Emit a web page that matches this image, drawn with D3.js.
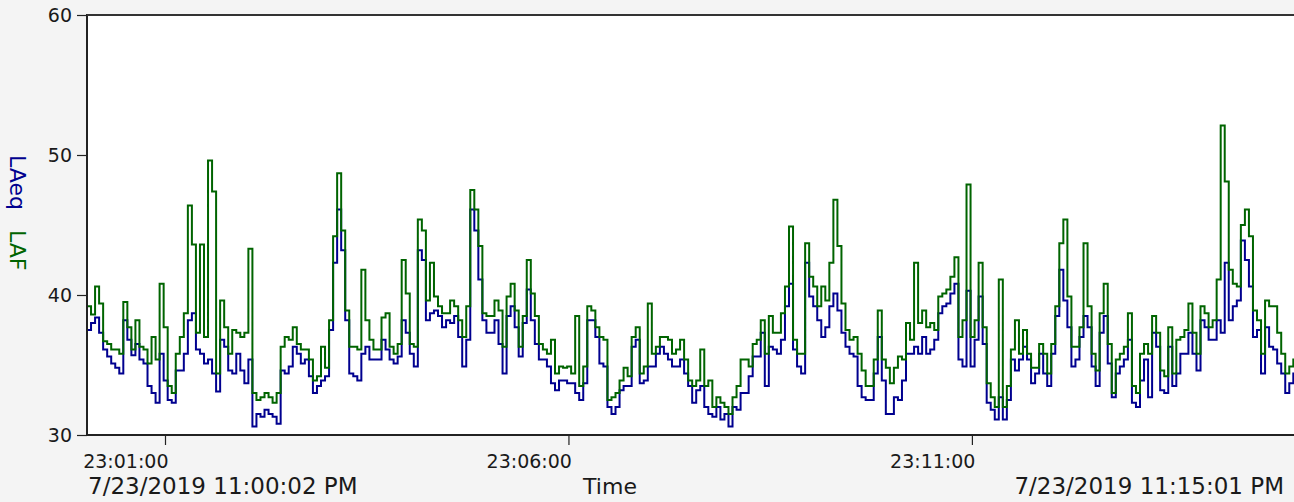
<!DOCTYPE html>
<html><head><meta charset="utf-8">
<script src="https://cdn.jsdelivr.net/npm/d3@7"></script>
<style>html,body{margin:0;padding:0;background:#f4f4f4;overflow:hidden}</style>
</head><body><svg id="c" width="1294" height="502"></svg>
<script>
const startTime = "2019-07-23 23:00:02";
const endTime = "2019-07-23 23:15:01";
const stepSeconds = 3;
const seriesNames = ["LAeq", "LAF"];
const yTicks = [30, 40, 50, 60];
const xTickLabels = ["23:01:00", "23:06:00", "23:11:00"];
const startLabel = "7/23/2019 11:00:02 PM";
const endLabel = "7/23/2019 11:15:01 PM";
const axisTitle = "Time";

const laf = [
39.2,38.6,40.6,39.4,36.7,36.5,36.1,36.1,35.8,39.5,37.7,36.1,38.2,36.3,36.1,35.1,37.0,35.4,40.8,37.7,
33.5,33.0,35.8,37.0,38.7,46.4,43.6,37.3,43.6,37.0,49.6,47.4,34.4,39.6,37.7,35.8,37.5,37.3,37.0,37.3,
43.3,33.0,32.5,32.7,33.0,32.7,32.3,33.0,36.3,37.0,
36.8,37.7,36.5,36.1,36.1,35.4,33.9,34.2,36.3,34.8,38.2,44.2,48.7,44.6,38.9,36.3,36.3,36.1,41.8,38.2,
36.8,36.1,36.1,38.4,38.7,36.3,35.8,36.5,42.5,40.1,36.5,36.3,45.4,44.6,39.6,42.3,39.9,39.2,38.7,38.7,
39.6,39.2,38.2,37.0,39.2,47.5,46.1,43.5,38.7,38.5,
38.5,39.6,38.9,36.3,39.9,40.8,38.9,36.3,38.5,42.5,40.1,38.5,36.5,36.1,35.8,36.8,34.4,34.9,34.8,34.9,
34.4,38.5,33.5,34.9,39.2,38.9,37.7,37.0,36.8,32.5,32.7,33.0,33.9,34.8,34.2,37.0,37.7,34.4,34.9,39.4,
35.8,36.3,37.0,37.0,36.8,35.8,36.1,36.8,35.4,
33.9,33.5,33.9,36.1,33.5,33.9,32.0,32.7,32.3,32.0,31.5,32.7,33.5,35.4,35.4,34.9,36.5,36.8,38.2,35.8,
38.5,37.3,37.3,38.7,40.6,44.9,36.8,35.8,35.8,43.7,41.3,40.6,39.2,40.6,39.6,42.3,46.8,43.5,39.4,37.5,
36.8,37.0,35.8,34.6,33.5,33.5,35.4,38.9,35.4,34.8,
33.7,34.8,35.6,35.4,38.0,36.8,42.3,38.0,38.9,37.7,38.0,37.5,39.9,40.1,40.4,41.3,42.7,37.0,38.2,47.9,
37.0,38.2,42.3,37.7,33.7,32.7,32.0,41.1,32.0,33.5,36.1,38.2,35.8,37.5,35.8,34.8,34.8,36.5,35.8,34.4,
36.5,39.2,43.7,45.4,39.9,36.3,36.3,37.7,43.7,
39.2,35.8,34.6,38.7,40.8,36.5,33.0,35.4,35.8,36.3,38.7,33.5,33.0,35.8,36.5,35.8,38.5,37.3,34.6,34.2,
37.7,34.4,36.8,37.0,37.5,39.4,37.3,35.8,39.2,38.7,37.7,38.2,41.1,52.1,48.1,41.8,40.8,40.6,45.0,46.1,
44.2,38.9,38.2,35.8,39.6,39.2,39.2,37.3,35.8,34.4,34.9,35.4
];
const laeq = [
37.5,38.0,38.4,37.3,36.1,35.6,35.1,34.8,34.4,38.2,36.8,35.7,36.5,35.4,35.1,33.5,33.0,32.3,35.8,33.9,
32.5,32.3,34.6,34.6,35.8,38.2,38.7,36.1,35.8,35.1,35.4,34.4,33.1,36.8,36.3,34.6,34.4,35.8,34.6,33.7,
35.4,30.6,31.5,31.3,31.8,31.5,31.3,30.8,34.6,34.4,
34.9,36.3,35.8,35.1,35.4,34.2,33.0,33.5,33.9,34.2,37.5,42.3,46.1,43.2,38.2,34.4,34.2,33.9,35.8,36.3,
35.4,35.4,35.4,36.8,36.1,35.4,35.1,35.6,38.2,37.3,35.8,34.9,43.2,42.5,38.2,38.7,38.9,38.5,37.7,38.2,
38.0,38.5,37.0,34.9,36.8,46.1,44.6,41.1,38.2,37.3,
37.3,38.2,36.5,34.4,38.5,39.2,37.7,35.6,38.0,40.4,38.2,36.5,35.4,35.4,34.9,33.7,33.2,33.9,33.9,33.7,
33.7,33.0,32.5,33.7,38.2,38.2,37.0,35.1,34.9,32.0,31.5,32.0,33.2,33.5,33.5,36.3,36.8,33.7,33.9,34.9,
34.9,35.8,36.3,35.8,35.4,34.9,34.9,35.4,34.4,
33.5,32.3,33.2,33.5,32.0,31.5,31.3,32.0,31.1,31.5,30.6,32.0,31.8,33.0,33.0,34.2,35.6,35.6,37.3,33.5,
36.3,36.1,35.8,36.8,39.2,40.8,36.1,34.9,34.4,42.3,39.9,39.2,38.2,37.0,37.7,39.2,40.1,38.9,37.3,36.3,
35.8,35.6,33.5,32.7,32.5,32.5,34.4,37.0,33.9,31.5,
31.5,32.7,32.5,33.9,35.8,35.8,36.3,35.8,37.0,35.8,36.1,36.8,38.7,39.2,39.4,40.1,40.8,35.4,34.9,40.3,
34.9,36.8,39.9,36.5,32.3,31.8,31.1,32.7,31.1,32.5,35.4,34.6,35.4,36.3,35.4,33.7,34.4,35.8,34.4,33.5,
35.8,38.5,41.8,39.6,37.7,34.9,35.4,37.0,38.5,
37.7,34.9,33.5,37.3,38.5,35.1,32.7,34.4,34.9,35.4,36.8,32.3,32.0,33.9,35.4,32.7,37.3,36.3,33.2,33.0,
36.3,33.5,34.4,35.8,35.8,37.3,35.8,34.6,38.2,37.7,36.8,36.8,38.2,37.3,42.3,38.2,39.2,39.6,43.9,42.5,
40.6,37.0,37.5,34.4,37.7,36.3,36.1,35.1,34.4,33.0,33.7,34.4
];

const W = 1294, H = 502;
const plot = {left: 87, top: 15, right: 1296, bottom: 435};
const parse = d3.timeParse("%Y-%m-%d %H:%M:%S");
const t0 = parse(startTime), t1 = parse(endTime);
const x = d3.scaleTime().domain([t0, t1]).range([plot.left, plot.right]);
const y = d3.scaleLinear().domain([30, 60]).range([plot.bottom, plot.top]);

const svg = d3.select("#c");
svg.append("rect").attr("width", W).attr("height", H).attr("fill", "#f4f4f4");
svg.append("rect").attr("x", plot.left).attr("y", plot.top)
  .attr("width", W - plot.left).attr("height", plot.bottom - plot.top).attr("fill", "#ffffff");

svg.append("defs").append("clipPath").attr("id", "clip")
  .append("rect").attr("x", plot.left + 1).attr("y", plot.top + 1)
  .attr("width", W - plot.left).attr("height", plot.bottom - plot.top - 2);

function toPoints(vals) {
  const pts = vals.map((v, i) => ({t: d3.timeSecond.offset(t0, i * stepSeconds), v}));
  pts.push({t: t1, v: vals[vals.length - 1]});
  return pts;
}
const line = d3.line().x(d => x(d.t)).y(d => y(d.v)).curve(d3.curveStepAfter);
const g = svg.append("g").attr("clip-path", "url(#clip)");
g.append("path").datum(toPoints(laeq)).attr("d", line)
  .attr("fill", "none").attr("stroke", "#00008f").attr("stroke-width", 2);
g.append("path").datum(toPoints(laf)).attr("d", line)
  .attr("fill", "none").attr("stroke", "#006400").attr("stroke-width", 2);

const font = "DejaVu Sans, Verdana, sans-serif";
// Y axis
const yAxis = d3.axisLeft(y).tickValues(yTicks).tickSize(10).tickPadding(5).tickFormat(d3.format("d"));
const ya = svg.append("g").attr("transform", `translate(${plot.left},0)`).call(yAxis);
ya.select(".domain").remove();
ya.selectAll(".tick line").attr("stroke", "#222").attr("stroke-width", 1.2);
ya.selectAll(".tick text").attr("font-family", font).attr("font-size", 19).attr("fill", "#1a1a1a");

// X axis
const xTickDates = xTickLabels.map(s => parse("2019-07-23 " + s));
const xAxis = d3.axisBottom(x).tickValues(xTickDates).tickSize(10).tickFormat(d3.timeFormat("%H:%M:%S"));
const xa = svg.append("g").attr("transform", `translate(0,${plot.bottom})`).call(xAxis);
xa.select(".domain").remove();
xa.selectAll(".tick line").attr("stroke", "#222").attr("stroke-width", 1.2);
xa.selectAll(".tick text").attr("font-family", font).attr("font-size", 19).attr("fill", "#1a1a1a")
  .attr("text-anchor", "end").attr("x", 3).attr("dy", 0).attr("y", 33);

// Frame lines
svg.append("line").attr("x1", plot.left).attr("x2", plot.left).attr("y1", plot.top - 1).attr("y2", plot.bottom + 1)
  .attr("stroke", "#222").attr("stroke-width", 2);
svg.append("line").attr("x1", plot.left).attr("x2", W).attr("y1", plot.top).attr("y2", plot.top)
  .attr("stroke", "#333").attr("stroke-width", 2);
svg.append("line").attr("x1", plot.left).attr("x2", W).attr("y1", plot.bottom).attr("y2", plot.bottom)
  .attr("stroke", "#222").attr("stroke-width", 2);

// Bottom labels
svg.append("text").attr("x", plot.left + 1).attr("y", 494).attr("font-family", font).attr("font-size", 23)
  .attr("fill", "#1a1a1a").text(startLabel);
svg.append("text").attr("x", 1284).attr("y", 494).attr("font-family", font).attr("font-size", 23)
  .attr("fill", "#1a1a1a").attr("text-anchor", "end").text(endLabel);
svg.append("text").attr("x", 610).attr("y", 494).attr("font-family", font).attr("font-size", 22)
  .attr("fill", "#1a1a1a").attr("text-anchor", "middle").text(axisTitle);

// Y title (rotated clockwise)
const yt = svg.append("text").attr("transform", "translate(10,155) rotate(90)")
  .attr("font-family", font).attr("font-size", 22);
yt.append("tspan").attr("fill", "#00008f").text(seriesNames[0]);
yt.append("tspan").attr("fill", "#006400").attr("dx", 20).text(seriesNames[1]);
</script></body></html>
